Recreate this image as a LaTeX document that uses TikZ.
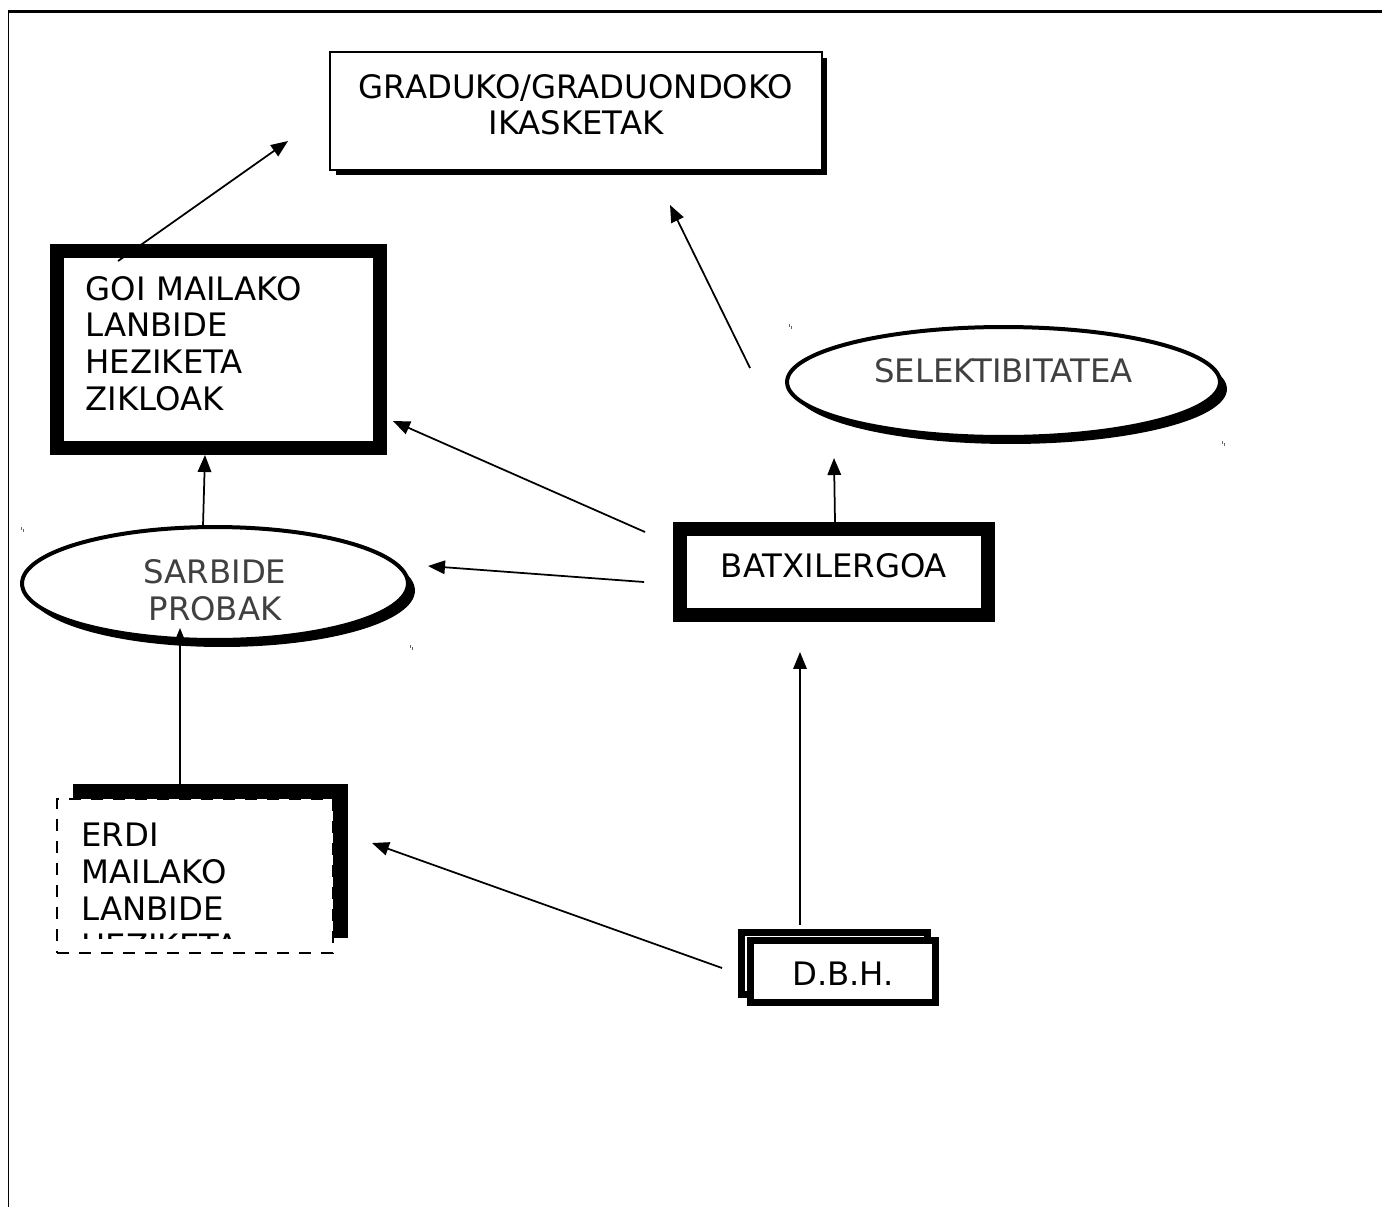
\documentclass[tikz,border=0pt]{standalone}
\usepackage{fontspec}
\setmainfont{DejaVu Sans}
\usetikzlibrary{arrows.meta, shapes.geometric, shadows, calc}
\definecolor{softgray}{RGB}{64,64,64}

\begin{document}
\begin{tikzpicture}[x=0.02cm, y=-0.02cm,
    every node/.style={font=\fontsize{18.4}{21}\selectfont, outer sep=0pt},
    conn/.style={-{Triangle[length=0.34cm,width=0.27cm]}, line width=0.035cm},
    speck/.style={line width=0.02cm, black!60},
    studybox/.style={draw, fill=white, line width=0.04cm, align=center,
      inner xsep=0.2cm, text width=9.44cm, minimum height=2.36cm,
      text height=0.5cm, text depth=1.02cm,
      drop shadow={shadow xshift=0.11cm, shadow yshift=-0.11cm, fill=black, opacity=1}},
    cyclebox/.style={draw, fill=white, line width=0.28cm, align=left,
      inner xsep=0.57cm, text width=5.32cm, minimum height=3.94cm,
      text height=0.5cm, text depth=2.48cm},
    exambubble/.style={ellipse, draw, fill=white, line width=0.08cm, align=center,
      text=softgray, inner sep=0.05cm, text height=0.5cm, text depth=0.5cm,
      drop shadow={shadow xshift=0.14cm, shadow yshift=-0.14cm, fill=black, opacity=1}},
    thickbox/.style={draw, fill=white, line width=0.28cm,
      minimum width=6.16cm, minimum height=1.72cm},
    thinbox/.style={draw, fill=white, line width=0.14cm,
      minimum width=3.72cm, minimum height=1.24cm,
      copy shadow={shadow xshift=-0.17cm, shadow yshift=0.15cm, line width=0.14cm, draw=black, fill=white}},
    dashbox/.style={draw, fill=white, line width=0.04cm, dash pattern=on 0.24cm off 0.2cm,
      minimum width=5.52cm, minimum height=3.08cm}
  ]
  \useasboundingbox (0,0) rectangle (1382,1207);

  % page frame
  \draw[line width=0.05cm] (8,11.5) -- (1382,11.5);
  \draw[line width=0.04cm] (8.5,11) -- (8.5,1207);

  \node[studybox] (grad) at (576,111) {GRADUKO/GRADUONDOKO\\IKASKETAK};
  \node[cyclebox] (goi) at (218.5,349.5) {GOI MAILAKO\\LANBIDE\\HEZIKETA\\ZIKLOAK};
  \node[exambubble, minimum width=8.66cm, minimum height=2.2cm] (sele) at (1003.5,382) {SELEKTIBITATEA};
  \node[exambubble, text width=3cm, minimum width=7.72cm, minimum height=2.26cm] (sarb) at (215,583.5) {SARBIDE\\PROBAK};
  \node[thickbox, text height=0.5cm, text depth=0.3cm] (bat) at (834,572) {BATXILERGOA};
  \node[thinbox, text height=0.6cm, text depth=0.04cm] (dbh) at (843,971) {D.B.H.};

  % ERDI: heavy frame behind, dashed box in front, last line cut off
  \draw[line width=0.3cm] (80.5,791.5) rectangle (340.5,930.5);
  \node[dashbox] (erdi) at (195,876) {};
  \begin{scope}
    \clip (erdi.north west) rectangle ([shift={(0,-14.5)}]erdi.south east);
    \node[anchor=north west, inner sep=0pt, align=left] (erditxt)
      at ([shift={(24.5,24)}]erdi.north west) {ERDI\\MAILAKO\\LANBIDE\\HEZIKETA};
  \end{scope}

  \foreach \px/\py in {789/324, 1222/441, 21/527, 410/645} {
    \draw[speck] (\px,\py) -- ++(0,2.5);
    \draw[speck] (\px+2.5,\py+1.5) -- ++(0,3);
  }

  \draw[conn] ([shift={(61,10)}]goi.north west) -- ([shift={(-42,-29)}]grad.south west);
  \draw[conn] ([shift={(-37,-14)}]sele.west) -- ([shift={(94,35)}]grad.south);
  \draw[conn] ([shift={(1,-7)}]bat.north) -- ([shift={(-169.5,21)}]sele.south);
  \draw[conn] ([shift={(-35,-40)}]bat.west) -- ([shift={(13,71.5)}]goi.east);
  \draw[conn] ([shift={(-36,10)}]bat.west) -- ([shift={(20,-17.5)}]sarb.east);
  \draw[conn] ([shift={(-43,-15)}]dbh.north) -- ([shift={(-34,37)}]bat.south);
  \draw[conn] ([shift={(-28,-3)}]dbh.west) -- ([shift={(39,44)}]erdi.north east);
  \draw[conn] ([shift={(-15,-14)}]erdi.north) -- ([shift={(-35,-12)}]sarb.south);
  \draw[conn] ([shift={(-12,-1)}]sarb.north) -- ([shift={(-13.5,7)}]goi.south);
\end{tikzpicture}
\end{document}
